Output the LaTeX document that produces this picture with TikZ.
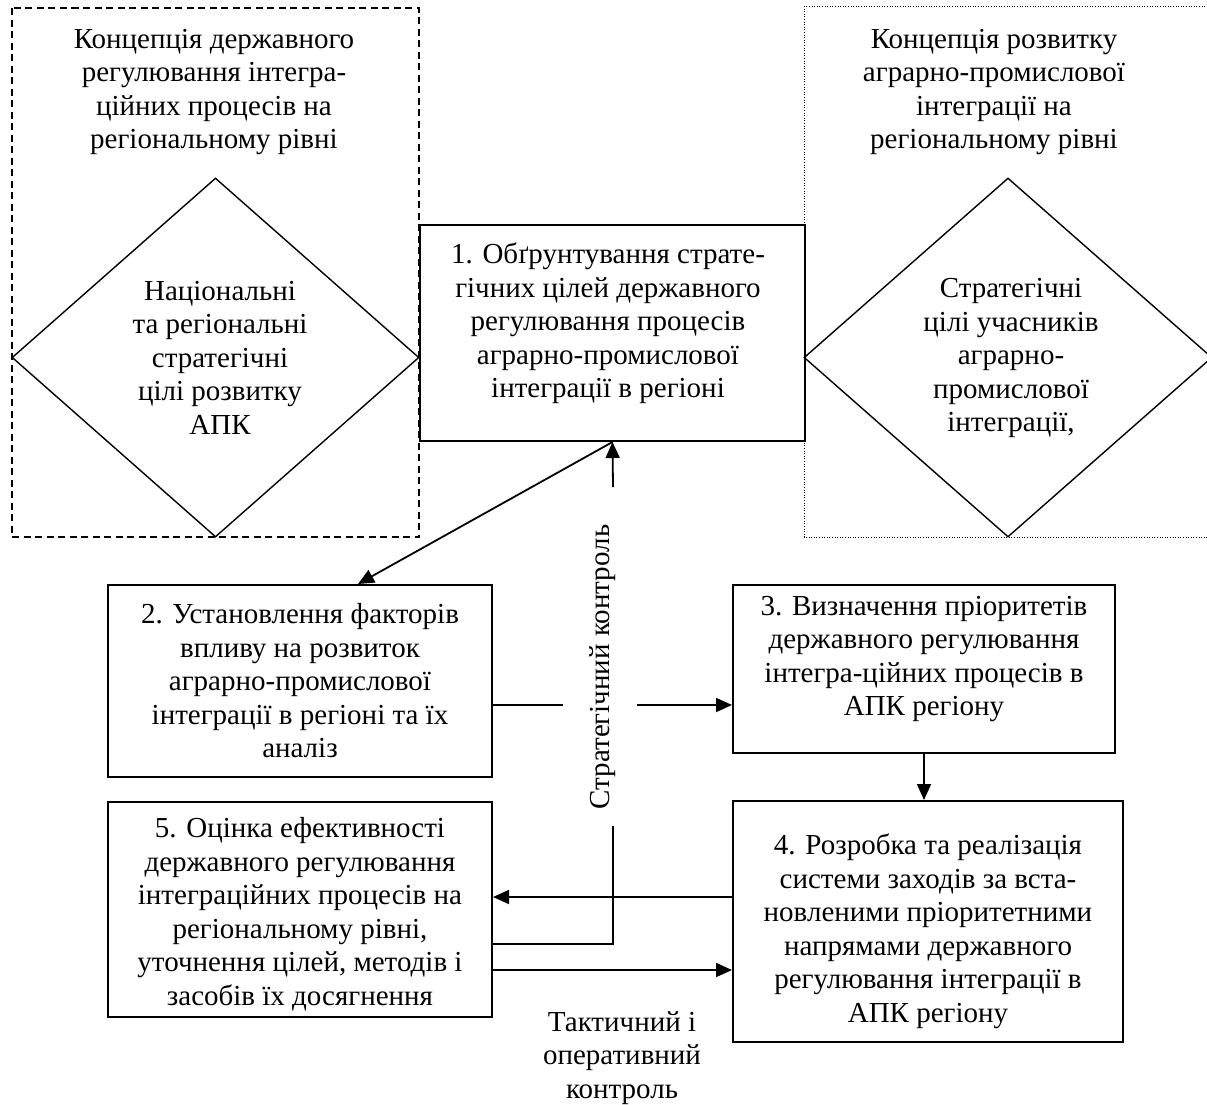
\documentclass[tikz,border=0pt]{standalone}
\usepackage{fontspec}
\setmainfont{Liberation Serif}
\usetikzlibrary{arrows.meta,shapes.geometric,calc}
\begin{document}
\begin{tikzpicture}[x=1pt,y=-1pt,
  box/.style={draw, line width=2pt, inner sep=0pt},
  dia/.style={draw, diamond, line width=1.4pt, inner sep=0pt},
  txt/.style={align=center, font=\fontsize{29}{33.5}\selectfont, inner sep=0pt},
  link/.style={line width=1.8pt},
  arr/.style={line width=1.8pt, -{Triangle[length=16pt,width=14pt]}},
  dashedframe/.style={line width=1.4pt, dash pattern=on 7pt off 4.5pt},
  dottedframe/.style={line width=1pt, dash pattern=on 1pt off 1.6pt},
]
\useasboundingbox (0,0) rectangle (1207,1104);

% frames
\draw[dashedframe] (12,8) rectangle (419,537);
\draw[dottedframe] (804,6) rectangle (1212,537);

\node[txt] (tL) at (214,92) {Концепція державного\\регулювання інтегра-\\ційних процесів на\\регіональному рівні};
\node[txt] (tR) at (994,92) {Концепція розвитку\\аграрно-промислової\\інтеграції на\\регіональному рівні};

% diamonds
\node[dia, minimum width=407pt, minimum height=359pt] (dL) at (215.5,357.5) {};
\node[dia, minimum width=408pt, minimum height=359pt] (dR) at (1008,357.5) {};
\node[txt] (dLt) at (220,357.5) {Національні\\та регіональні\\стратегічні\\цілі розвитку\\АПК};
\node[txt] (dRt) at (1011,358) {Стратегічні\\цілі учасників\\аграрно-\\промислової\\інтеграції,};

% boxes
\node[box, minimum width=385pt, minimum height=216pt] (b1) at (612.5,333) {};
\node[box, minimum width=384pt, minimum height=192pt] (b2) at (300,681) {};
\node[box, minimum width=382pt, minimum height=168pt] (b3) at (924,669) {};
\node[box, minimum width=390pt, minimum height=241pt] (b4) at (928,921.5) {};
\node[box, minimum width=384pt, minimum height=215pt] (b5) at (300,909.5) {};

\node[txt] (t1) at (608,323.5) {1. Обґрунтування страте-\\гічних цілей державного\\регулювання процесів\\аграрно-промислової\\інтеграції в регіоні};
\node[txt] (t2) at (300,681) {2. Установлення факторів\\впливу на розвиток\\аграрно-промислової\\інтеграції в регіоні та їх\\аналіз};
\node[txt] (t3) at (924,659) {3. Визначення пріоритетів\\державного регулювання\\інтегра-ційних процесів в\\АПК регіону};
\node[txt] (t4) at (928,931) {4. Розробка та реалізація\\системи заходів за вста-\\новленими пріоритетними\\напрямами державного\\регулювання інтеграції в\\АПК регіону};
\node[txt] (t5) at (300,914) {5. Оцінка ефективності\\державного регулювання\\інтеграційних процесів на\\регіональному рівні,\\уточнення цілей, методів і\\засобів їх досягнення};

\node[txt, rotate=90] (tv) at (603,667) {Стратегічний контроль};
\node[txt] (tt) at (622,1058) {Тактичний і\\оперативний\\контроль};

% helper coordinates
\coordinate (sc) at (613,487);
\coordinate (g1) at (563,705);
\coordinate (g2) at (637,705);
\coordinate (sv) at (613,826);
\coordinate (y897) at (0,897);
\coordinate (y944) at (0,944);
\coordinate (y970) at (0,970);

% connectors
\draw[arr] (b1.south) -- ($(b2.north)+(58,0)$);
\draw[arr] (sc) -- (b1.south);
\draw[link] (b2.east |- g1) -- (g1);
\draw[arr] (g2) -- (b3.west |- g2);
\draw[arr] (b3.south) -- (b3.south |- b4.north);
\draw[arr] (b4.west |- y897) -- (b5.east |- y897);
\draw[link] (b5.east |- y944) -| (sv);
\draw[arr] (b5.east |- y970) -- (b4.west |- y970);
\end{tikzpicture}
\end{document}
